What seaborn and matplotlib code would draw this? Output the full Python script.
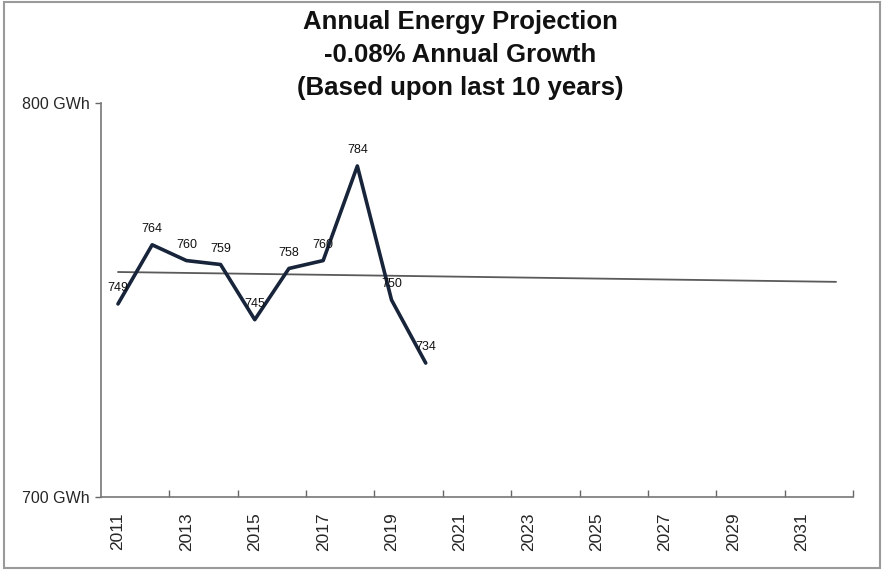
import matplotlib
matplotlib.use("Agg")
import matplotlib.pyplot as plt
from matplotlib.patches import Rectangle
import seaborn as sns
import pandas as pd

# Data
years = [2011, 2012, 2013, 2014, 2015, 2016, 2017, 2018, 2019, 2020]
energy = [749, 764, 760, 759, 745, 758, 760, 784, 750, 734]
trend_years = [2011, 2032]
trend_values = [757.1, 754.6]
tick_years = [2011, 2013, 2015, 2017, 2019, 2021, 2023, 2025, 2027, 2029, 2031]
y_ticks = [700, 800]
y_tick_labels = ["700 GWh", "800 GWh"]
title_lines = ["Annual Energy Projection", "-0.08% Annual Growth", "(Based upon last 10 years)"]

sns.set_theme(style="white")
plt.rcParams['font.family'] = ['Liberation Sans', 'DejaVu Sans']

fig = plt.figure(figsize=(8.85, 5.77), dpi=100)
ax = fig.add_axes([0.114, 0.1386, 0.850, 0.683])

df = pd.DataFrame({"year": years, "energy": energy})
tdf = pd.DataFrame({"year": trend_years, "energy": trend_values})

sns.lineplot(data=tdf, x="year", y="energy", ax=ax, color="#5a5a5a", linewidth=1.3)
sns.lineplot(data=df, x="year", y="energy", ax=ax, color="#17243a", linewidth=2.6)

for x, v in zip(years, energy):
    ax.annotate(str(v), (x, v), xytext=(0, 7), textcoords="offset points",
                ha="center", va="bottom", fontsize=9, color="#111111")

ax.set_xlim(2010.5, 2032.5)
ax.set_ylim(700, 800)
ax.set_xticks(tick_years)
ax.set_xticklabels([str(y) for y in tick_years], rotation=90, fontsize=12.5)
ax.set_xticks([y + 0.5 for y in range(2012, 2033, 2)], minor=True)
ax.tick_params(axis="x", which="major", length=0, pad=11)
ax.tick_params(axis="x", which="minor", length=5, direction="in", color="#666666", width=1, bottom=True)
ax.set_yticks(y_ticks)
ax.set_yticklabels(y_tick_labels, fontsize=11.5)
ax.tick_params(axis="y", length=4, direction="out", color="#666666", width=1, left=True, pad=4)
ax.set_xlabel("")
ax.set_ylabel("")

for s in ["top", "right"]:
    ax.spines[s].set_visible(False)
for s in ["left", "bottom"]:
    ax.spines[s].set_color("#777777")
    ax.spines[s].set_linewidth(1.2)

fig.text(0.52, 1 - 10 / 577, "\n".join(title_lines), ha="center", va="top",
         fontsize=18.5, fontweight="bold", linespacing=1.47, color="#111111")

fig.patches.append(Rectangle((4 / 885, 1 - 568 / 577), 876 / 885, 566 / 577,
                             transform=fig.transFigure, fill=False,
                             edgecolor="#9a9a9a", linewidth=1.5))

fig.savefig("out.png", dpi=100)
